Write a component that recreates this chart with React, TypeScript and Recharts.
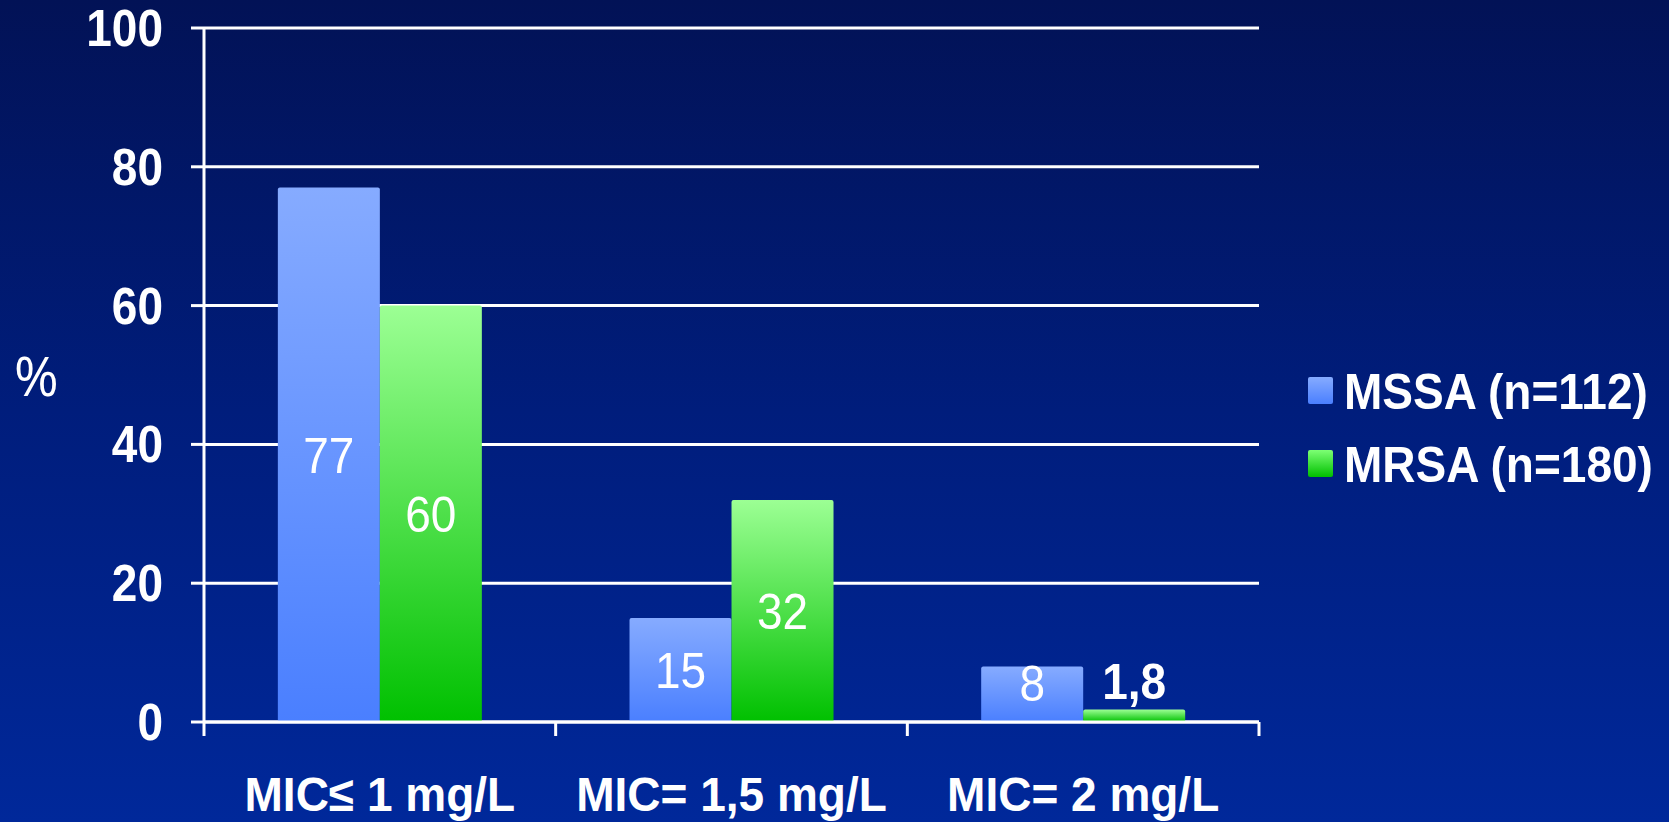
import { BarChart, Bar, XAxis, YAxis, CartesianGrid, Legend, LabelList } from "recharts";

const categories = ["MIC≤ 1 mg/L", "MIC= 1,5 mg/L", "MIC= 2 mg/L"];
const mssaValues = [77, 15, 8];
const mrsaValues = [60, 32, 1.8];
const seriesNames = ["MSSA (n=112)", "MRSA (n=180)"];
const yTicks = [0, 20, 40, 60, 80, 100];

const data = categories.map((name, i) => ({ name, mssa: mssaValues[i], mrsa: mrsaValues[i] }));

const FONT = '"Liberation Sans", Arial, sans-serif';
const legendSwatches = ["linear-gradient(#86abff, #4a7fff)", "linear-gradient(#7dff74, #00c000)"];

const fmt = (v: number) => String(v).replace(".", ",");

function YTick({ x, y, payload }: any) {
  return (
    <text
      transform={`translate(${x},${y}) scale(1,1.12)`}
      textAnchor="end"
      dominantBaseline="central"
      fill="#fff"
      fontFamily={FONT}
      fontWeight="bold"
      fontSize={46}
    >
      {payload.value}
    </text>
  );
}

// category label plus the short marks on the band edges (like the original axis)
function XTick({ x, y, payload, index, width, visibleTicksCount }: any) {
  const band = width / visibleTicksCount;
  const edges = index === 0 ? [x - band / 2, x + band / 2] : [x + band / 2];
  return (
    <g>
      {edges.map((ex) => (
        <line key={ex} x1={ex} x2={ex} y1={y} y2={y + 14} stroke="#fff" strokeWidth={3} />
      ))}
      <text
        transform={`translate(${x},${y + 72}) scale(1,1.06)`}
        textAnchor="middle"
        dominantBaseline="central"
        fill="#fff"
        fontFamily={FONT}
        fontWeight="bold"
        fontSize={46}
      >
        {payload.value}
      </text>
    </g>
  );
}

// small bars: MSSA keeps its number at the top, MRSA pushes it above the bar
function BarValue(props: any) {
  const vb = props.viewBox ?? props;
  const { x, y, width, height } = vb;
  const small = height < 70;
  const outside = small && props.above;
  const cy = outside ? y - 28 : small ? y + 17 : y + height / 2;
  return (
    <text
      transform={`translate(${x + width / 2},${cy}) scale(1,1.1)`}
      textAnchor="middle"
      dominantBaseline="central"
      fill="#fff"
      fontFamily={FONT}
      fontWeight={outside ? "bold" : "normal"}
      fontSize={46}
    >
      {fmt(props.value)}
    </text>
  );
}

function LegendBox() {
  return (
    <div style={{ fontFamily: FONT }}>
      {seriesNames.map((name, i) => (
        <div key={name} style={{ display: "flex", alignItems: "center", height: 73 }}>
          <span style={{ width: 25, height: 27, background: legendSwatches[i], marginRight: 11, borderRadius: 2 }} />
          <span
            style={{
              color: "#fff",
              fontWeight: "bold",
              fontSize: 46,
              display: "inline-block",
              transform: "scaleY(1.1)",
              whiteSpace: "nowrap",
            }}
          >
            {name}
          </span>
        </div>
      ))}
    </div>
  );
}

export default function App() {
  return (
    <div
      style={{
        position: "fixed",
        left: 0,
        top: 0,
        width: 1669,
        height: 822,
        background: "linear-gradient(to bottom, #021256 0%, #001d7c 50%, #00289a 100%)",
      }}
    >
      <BarChart
        width={1669}
        height={822}
        data={data}
        margin={{ top: 28, right: 410, bottom: 99, left: 0 }}
        barCategoryGap="21%"
        barGap={0}
      >
        <defs>
          <linearGradient id="mssaFill" x1="0" y1="0" x2="0" y2="1">
            <stop offset="0%" stopColor="#86abff" />
            <stop offset="100%" stopColor="#4a7fff" />
          </linearGradient>
          <linearGradient id="mrsaFill" x1="0" y1="0" x2="0" y2="1">
            <stop offset="0%" stopColor="#9cff94" />
            <stop offset="100%" stopColor="#00c000" />
          </linearGradient>
        </defs>
        <CartesianGrid vertical={false} stroke="#fff" strokeWidth={3} />
        <XAxis
          dataKey="name"
          height={1}
          axisLine={{ stroke: "#fff", strokeWidth: 3 }}
          tickLine={false}
          tickSize={0}
          tickMargin={0}
          interval={0}
          tick={<XTick />}
        />
        <YAxis
          width={204}
          domain={[0, 100]}
          ticks={yTicks}
          interval={0}
          axisLine={{ stroke: "#fff", strokeWidth: 3 }}
          tickLine={{ stroke: "#fff", strokeWidth: 3 }}
          tickSize={13}
          tickMargin={28}
          tick={<YTick />}
          label={{
            position: "insideLeft",
            content: ({ viewBox }: any) => (
              <text
                x={viewBox.x + 14}
                y={viewBox.y + viewBox.height / 2}
                dominantBaseline="central"
                fill="#fff"
                fontFamily='"Open Sans", sans-serif'
                fontSize={54}
              >
                %
              </text>
            ),
          }}
        />
        <Legend
          layout="vertical"
          align="center"
          verticalAlign="middle"
          wrapperStyle={{ left: 1308, top: 354, width: 361 }}
          content={<LegendBox />}
        />
        <Bar dataKey="mssa" name={seriesNames[0]} fill="url(#mssaFill)" radius={[2, 2, 0, 0]} isAnimationActive={false}>
          <LabelList dataKey="mssa" content={<BarValue />} />
        </Bar>
        <Bar dataKey="mrsa" name={seriesNames[1]} fill="url(#mrsaFill)" radius={[2, 2, 0, 0]} isAnimationActive={false}>
          <LabelList dataKey="mrsa" content={<BarValue above />} />
        </Bar>
      </BarChart>
    </div>
  );
}
